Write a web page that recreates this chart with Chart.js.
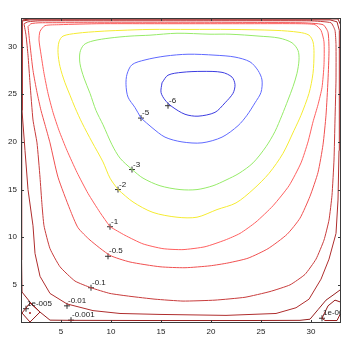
<!DOCTYPE html>
<html>
<head>
<meta charset="utf-8">
<script src="https://cdn.jsdelivr.net/npm/chart.js@4.4.1/dist/chart.umd.min.js"></script>
<style>
  html, body { margin: 0; padding: 0; background: #fff; }
</style>
</head>
<body>
<canvas id="myChart" width="346" height="346"></canvas>
<script>
// Stream function contours, one pair of arrays per level

const xTicks = [5, 10, 15, 20, 25, 30];
const yTicks = [5, 10, 15, 20, 25, 30];

const psi6X = [15.1, 15.7, 17.1, 19.1, 21.1, 22.1, 22.4, 22.2, 21.4, 20.4, 18.7, 17.4, 16.1, 15.4, 15.0];
const psi6Y = [26.2, 27.0, 27.3, 27.4, 27.3, 26.8, 26.0, 25.1, 24.1, 23.1, 22.7, 22.9, 23.7, 24.4, 25.2];

const psi5X = [13.0, 12.4, 11.7, 11.5, 11.6, 12.1, 13.4, 15.4, 17.7, 20.4, 22.4, 23.9, 24.7, 25.1, 25.0, 24.4, 23.6, 22.7, 21.1, 19.1, 17.1, 15.4, 14.1];
const psi5Y = [22.5, 23.6, 24.7, 26.0, 27.1, 28.1, 28.6, 29.0, 29.2, 29.1, 28.9, 28.4, 27.5, 26.5, 25.2, 24.1, 22.8, 21.7, 20.5, 19.9, 20.0, 20.5, 21.5];

const psi3X = [12.1, 10.9, 10.1, 9.2, 8.5, 7.9, 7.3, 6.9, 6.9, 7.3, 8.2, 9.9, 11.9, 13.9, 16.6, 19.9, 21.9, 24.8, 26.8, 28.1, 28.7, 28.8, 28.6, 28.2, 27.7, 27.1, 26.4, 25.5, 24.2, 22.8, 21.5, 20.2, 18.6, 16.9, 14.9, 13.2];
const psi3Y = [17.1, 18.3, 19.7, 21.8, 23.3, 25.1, 26.7, 28.2, 29.4, 30.2, 30.6, 30.9, 31.1, 31.2, 31.4, 31.3, 31.3, 31.1, 30.9, 30.4, 29.6, 28.6, 27.2, 25.8, 24.4, 22.8, 21.1, 19.5, 17.8, 16.7, 16.0, 15.4, 15.0, 15.0, 15.4, 16.2];

const psi2X = [10.7, 9.9, 9.2, 8.1, 7.1, 6.4, 5.9, 5.4, 4.9, 4.7, 4.8, 5.2, 6.6, 8.9, 10.9, 13.9, 17.9, 21.9, 26.5, 28.8, 29.8, 30.2, 30.3, 30.2, 29.8, 29.0, 28.3, 27.2, 25.8, 24.2, 22.5, 20.6, 18.6, 16.6, 14.2, 12.2];
const psi2Y = [15.0, 16.2, 17.9, 20.0, 22.0, 23.6, 24.9, 26.2, 27.9, 29.4, 30.5, 31.1, 31.4, 31.6, 31.7, 31.8, 31.8, 31.8, 31.7, 31.5, 31.2, 30.5, 29.3, 27.2, 25.1, 22.8, 21.2, 18.8, 16.7, 15.0, 13.6, 12.9, 12.1, 12.1, 12.6, 13.7];

const psi1X = [9.9, 8.9, 7.7, 6.6, 5.6, 4.8, 4.2, 3.7, 3.3, 3.0, 2.8, 2.9, 3.4, 4.9, 8.9, 13.9, 18.9, 23.9, 28.9, 30.4, 31.0, 31.3, 31.3, 31.1, 30.7, 30.2, 29.7, 29.0, 27.8, 26.2, 24.5, 22.9, 21.4, 19.4, 17.2, 15.2, 13.2, 11.4];
const psi1Y = [11.1, 12.6, 14.6, 16.8, 19.1, 21.2, 23.1, 25.1, 27.2, 29.2, 30.7, 31.6, 32.2, 32.3, 32.4, 32.4, 32.4, 32.4, 32.4, 32.3, 31.7, 30.5, 28.1, 25.7, 23.9, 22.1, 20.0, 17.8, 15.4, 13.3, 11.6, 10.4, 9.7, 9.0, 8.7, 8.8, 9.3, 10.2];

const psi05X = [1.7, 1.9, 2.2, 2.6, 3.0, 3.4, 3.9, 4.7, 5.9, 6.7, 7.9, 9.9, 11.9, 14.9, 17.4, 19.9, 21.7, 23.7, 25.7, 27.6, 28.9, 29.9, 30.7, 31.2, 31.5, 31.7, 31.8, 31.7, 31.2, 28.9, 18.9, 8.9, 2.9, 2.0];
const psi05Y = [32.1, 30.2, 27.5, 25.2, 23.3, 21.8, 19.9, 16.3, 12.9, 11.0, 9.7, 8.1, 7.4, 6.9, 6.8, 7.0, 7.3, 7.8, 8.8, 10.3, 12.0, 14.3, 16.8, 19.7, 22.8, 26.5, 29.6, 31.5, 32.3, 32.5, 32.5, 32.5, 32.5, 32.4];

const psi01X = [1.3, 1.5, 1.7, 1.9, 2.2, 2.6, 2.9, 3.1, 3.3, 3.9, 4.9, 6.4, 8.0, 9.9, 11.9, 14.4, 17.2, 20.4, 23.4, 25.9, 27.9, 29.4, 30.5, 31.3, 31.8, 32.1, 32.3, 32.4, 32.5, 32.5, 32.4, 32.0, 29.9, 18.9, 8.9, 2.9, 1.7];
const psi01Y = [32.4, 31.2, 29.1, 26.2, 22.3, 19.9, 16.3, 13.4, 11.2, 8.8, 6.9, 5.4, 4.7, 4.1, 3.8, 3.5, 3.3, 3.4, 3.7, 4.3, 5.0, 6.1, 7.7, 9.7, 11.8, 14.4, 18.1, 22.3, 26.5, 30.2, 31.7, 32.5, 32.7, 32.7, 32.7, 32.7, 32.6];

const psi001X = [1.1, 1.1, 1.1, 1.4, 1.7, 2.2, 2.4, 2.9, 3.9, 5.6, 8.2, 10.9, 14.9, 21.5, 26.5, 28.5, 29.8, 31.0, 31.8, 32.5, 32.7, 32.8, 32.85, 32.85, 32.8, 32.6, 31.9, 8.9, 1.9, 1.2];
const psi001Y = [32.6, 28.6, 23.3, 19.1, 15.0, 11.2, 8.3, 5.9, 4.1, 3.0, 2.3, 2.0, 1.9, 1.8, 2.0, 2.6, 3.5, 5.6, 7.7, 10.4, 13.9, 19.1, 24.4, 29.6, 31.7, 32.6, 32.8, 32.8, 32.8, 32.7];

const psi0001X = [1.05, 1.05, 1.05, 1.08, 1.1, 1.9, 2.9, 3.9, 6.0, 13.9, 23.9, 28.9, 29.9, 30.7, 31.5, 32.3, 32.95, 32.95, 32.95, 32.95, 32.7, 8.9, 1.9, 1.2];
const psi0001Y = [32.7, 24.4, 13.9, 7.6, 4.25, 3.2, 2.15, 1.3, 1.28, 1.26, 1.26, 1.28, 1.4, 2.4, 3.4, 4.0, 4.5, 13.9, 24.4, 32.3, 32.9, 32.9, 32.9, 32.8];

// small corner eddies (level 1e-005)
const eddyLeftX = [1.1, 1.9, 2.9, 1.9];
const eddyLeftY = [2.05, 3.1, 2.15, 1.1];
const eddyRightX = [31.1, 31.7, 32.4, 32.95, 32.95, 32.6, 31.4];
const eddyRightY = [1.5, 2.8, 3.4, 3.2, 2.0, 1.26, 1.26];
const eddyDotX = [1.9];
const eddyDotY = [2.05];

// clabel markers
const labelText = ["-6", "-5", "-3", "-2", "-1", "-0.5", "-0.1", "-0.01", "-0.001", "1e-005", "1e-005"];
const labelX = [15.7, 13.0, 12.1, 10.7, 9.9, 9.7, 8.0, 5.6, 6.0, 1.5, 31.1];
const labelY = [23.8, 22.5, 17.1, 15.0, 11.1, 8.0, 4.7, 2.8, 1.3, 2.5, 1.5];

// helpers

function closed(xs, ys) {
  const pts = xs.map((x, i) => ({ x, y: ys[i] }));
  pts.push({ x: xs[0], y: ys[0] });
  return pts;
}

function contour(xs, ys, color, tension) {
  return {
    data: closed(xs, ys),
    showLine: true,
    borderColor: color,
    borderWidth: 1,
    pointRadius: 0,
    tension,
    fill: false,
  };
}

const datasets = [
  contour(psi0001X, psi0001Y, "rgb(150,30,30)", 0),
  contour(psi001X, psi001Y, "rgb(175,45,45)", 0),
  contour(psi01X, psi01Y, "rgb(200,60,60)", 0.15),
  contour(psi05X, psi05Y, "rgb(240,80,80)", 0.2),
  contour(psi1X, psi1Y, "rgb(255,95,95)", 0.2),
  contour(psi2X, psi2Y, "rgb(245,235,50)", 0.3),
  contour(psi3X, psi3Y, "rgb(150,235,105)", 0.3),
  contour(psi5X, psi5Y, "rgb(95,105,255)", 0.3),
  contour(psi6X, psi6Y, "rgb(60,60,225)", 0.3),
  contour(eddyLeftX, eddyLeftY, "rgb(150,25,25)", 0),
  contour(eddyRightX, eddyRightY, "rgb(150,25,25)", 0),
  {
    data: eddyDotX.map((x, i) => ({ x, y: eddyDotY[i] })),
    pointRadius: 1,
    pointBackgroundColor: "rgb(170,30,30)",
    pointBorderWidth: 0,
  },
  {
    data: labelX.map((x, i) => ({ x, y: labelY[i] })),
    pointStyle: "cross",
    pointRadius: 3,
    borderColor: "#333",
    borderWidth: 1,
  },
];

// box, inward ticks and contour labels

const framePlugin = {
  id: "frame",
  afterDatasetsDraw(chart) {
    const { ctx, chartArea: a, scales } = chart;
    ctx.save();
    ctx.strokeStyle = "#3a3a3a";
    ctx.lineWidth = 1;
    ctx.strokeRect(a.left + 0.5, a.top + 0.5, a.right - a.left - 1, a.bottom - a.top - 1);
    ctx.beginPath();
    xTicks.forEach((v) => {
      const px = Math.round(scales.x.getPixelForValue(v)) + 0.5;
      ctx.moveTo(px, a.bottom);
      ctx.lineTo(px, a.bottom - 3);
      ctx.moveTo(px, a.top);
      ctx.lineTo(px, a.top + 3);
    });
    yTicks.forEach((v) => {
      const py = Math.round(scales.y.getPixelForValue(v)) + 0.5;
      ctx.moveTo(a.left, py);
      ctx.lineTo(a.left + 3, py);
      ctx.moveTo(a.right, py);
      ctx.lineTo(a.right - 3, py);
    });
    ctx.stroke();

    ctx.beginPath();
    ctx.rect(a.left, a.top, a.right - a.left, a.bottom - a.top);
    ctx.clip();
    ctx.fillStyle = "#222";
    ctx.font = "8px 'Liberation Sans', Arial, sans-serif";
    ctx.textAlign = "left";
    ctx.textBaseline = "middle";
    labelText.forEach((t, i) => {
      const px = scales.x.getPixelForValue(labelX[i]);
      const py = scales.y.getPixelForValue(labelY[i]);
      ctx.fillText(t, px + 1, py - 5);
    });
    ctx.restore();
  },
};

const tickFont = { family: "'Liberation Sans', Arial, sans-serif", size: 8 };

const ctx = document.getElementById("myChart").getContext("2d");
const myChart = new Chart(ctx, {
  type: "scatter",
  data: { datasets },
  options: {
    responsive: false,
    animation: false,
    devicePixelRatio: 1,
    layout: { padding: { top: 18, right: 5, left: 0, bottom: 0 } },
    plugins: { legend: { display: false }, tooltip: { enabled: false } },
    scales: {
      x: {
        type: "linear",
        min: 1,
        max: 33,
        grid: { display: false, drawTicks: false },
        border: { display: false },
        ticks: { font: tickFont, color: "#222", padding: 4, maxRotation: 0 },
        afterBuildTicks: (s) => { s.ticks = xTicks.map((v) => ({ value: v })); },
        afterFit: (s) => { s.height = 23; },
      },
      y: {
        type: "linear",
        min: 1,
        max: 33,
        grid: { display: false, drawTicks: false },
        border: { display: false },
        ticks: { font: tickFont, color: "#222", padding: 4 },
        afterBuildTicks: (s) => { s.ticks = yTicks.map((v) => ({ value: v })); },
        afterFit: (s) => { s.width = 21; },
      },
    },
  },
  plugins: [framePlugin],
});
</script>
</body>
</html>
